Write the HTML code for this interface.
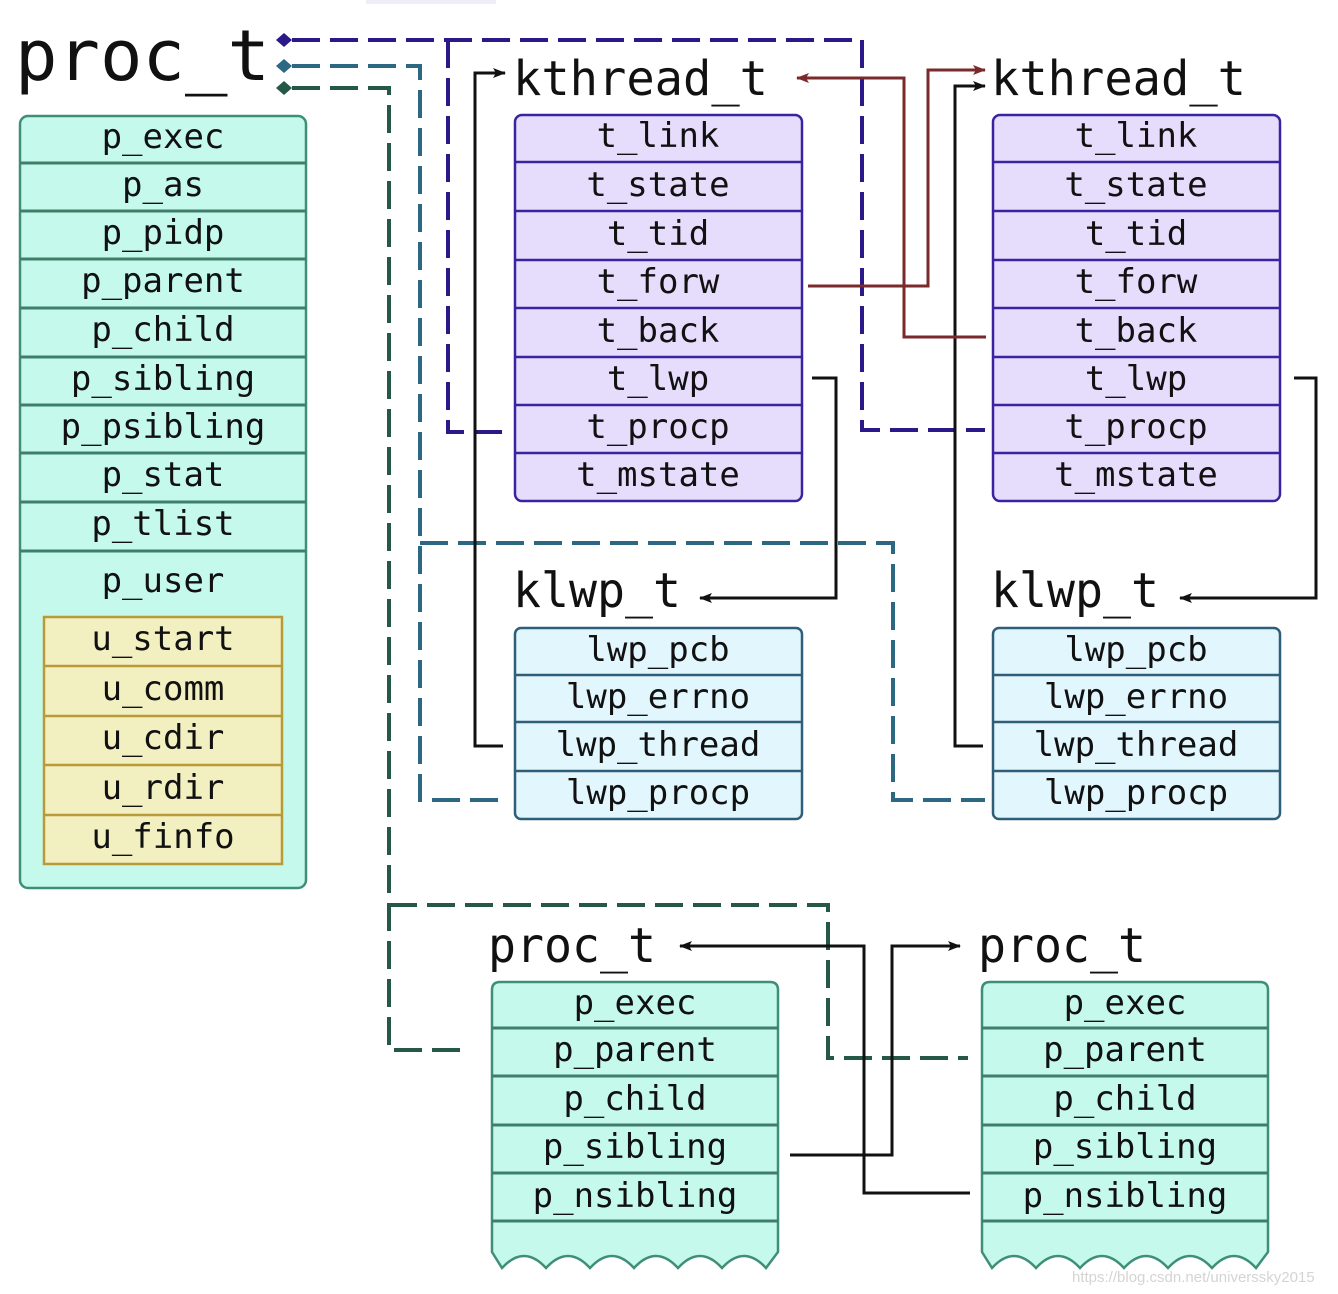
<!DOCTYPE html>
<html><head><meta charset="utf-8"><style>
html,body{margin:0;padding:0;background:#fff;}
svg{display:block;}
text{font-family:"DejaVu Sans Mono","Liberation Mono",monospace;fill:#111;}
.r{font-size:34px;text-anchor:middle;}
</style></head><body>
<svg width="1338" height="1294" viewBox="0 0 1338 1294" xmlns="http://www.w3.org/2000/svg">
<defs>
<marker id="ab" markerWidth="13" markerHeight="10" refX="12" refY="5" orient="auto" markerUnits="userSpaceOnUse"><path d="M0,0 L13,5 L0,10 L3,5 z" fill="#111"/></marker>
<marker id="ar" markerWidth="13" markerHeight="10" refX="12" refY="5" orient="auto" markerUnits="userSpaceOnUse"><path d="M0,0 L13,5 L0,10 L3,5 z" fill="#7a2a2a"/></marker>
</defs>
<rect x="366" y="0" width="130" height="4" fill="#eeeef8"/>

<!-- titles -->
<text x="15" y="80" font-size="70" textLength="255" lengthAdjust="spacingAndGlyphs">proc_t</text>
<text x="513" y="95" font-size="48" textLength="255" lengthAdjust="spacingAndGlyphs">kthread_t</text>
<text x="991" y="95" font-size="48" textLength="255" lengthAdjust="spacingAndGlyphs">kthread_t</text>
<text x="513" y="607" font-size="48" textLength="168" lengthAdjust="spacingAndGlyphs">klwp_t</text>
<text x="991" y="607" font-size="48" textLength="168" lengthAdjust="spacingAndGlyphs">klwp_t</text>
<text x="488" y="962" font-size="48" textLength="168" lengthAdjust="spacingAndGlyphs">proc_t</text>
<text x="978" y="962" font-size="48" textLength="168" lengthAdjust="spacingAndGlyphs">proc_t</text>

<!-- left proc_t -->
<rect x="20" y="116" width="286" height="772" rx="8" fill="#c5f9eb" stroke="#3f8f78" stroke-width="2.5"/>
<g stroke="#3f7f6a" stroke-width="3">
<line x1="20" x2="306" y1="163" y2="163"/><line x1="20" x2="306" y1="211" y2="211"/><line x1="20" x2="306" y1="259" y2="259"/><line x1="20" x2="306" y1="308" y2="308"/><line x1="20" x2="306" y1="357" y2="357"/><line x1="20" x2="306" y1="405" y2="405"/><line x1="20" x2="306" y1="453" y2="453"/><line x1="20" x2="306" y1="502" y2="502"/><line x1="20" x2="306" y1="551" y2="551"/>
</g>
<text class="r" x="163" y="148">p_exec</text><text class="r" x="163" y="196">p_as</text><text class="r" x="163" y="244">p_pidp</text><text class="r" x="163" y="292">p_parent</text><text class="r" x="163" y="341">p_child</text><text class="r" x="163" y="390">p_sibling</text><text class="r" x="163" y="438">p_psibling</text><text class="r" x="163" y="486">p_stat</text><text class="r" x="163" y="535">p_tlist</text><text class="r" x="163" y="592">p_user</text>
<rect x="44" y="617" width="238" height="247" fill="#f2efc0" stroke="#b89a38" stroke-width="2.5"/>
<g stroke="#b89a38" stroke-width="2.5">
<line x1="44" x2="282" y1="666" y2="666"/><line x1="44" x2="282" y1="716" y2="716"/><line x1="44" x2="282" y1="765" y2="765"/><line x1="44" x2="282" y1="815" y2="815"/>
</g>
<text class="r" x="163" y="650">u_start</text><text class="r" x="163" y="700">u_comm</text><text class="r" x="163" y="749">u_cdir</text><text class="r" x="163" y="799">u_rdir</text><text class="r" x="163" y="848">u_finfo</text>

<!-- kthread boxes -->
<g id="kt">
<rect x="515" y="115" width="287" height="386" rx="7" fill="#e6dcfc" stroke="#3a23a0" stroke-width="2.5"/>
<g stroke="#3a23a0" stroke-width="2.5">
<line x1="515" x2="802" y1="162" y2="162"/><line x1="515" x2="802" y1="211" y2="211"/><line x1="515" x2="802" y1="260" y2="260"/><line x1="515" x2="802" y1="308" y2="308"/><line x1="515" x2="802" y1="357" y2="357"/><line x1="515" x2="802" y1="405" y2="405"/><line x1="515" x2="802" y1="453" y2="453"/>
</g>
<text class="r" x="658" y="147">t_link</text><text class="r" x="658" y="196">t_state</text><text class="r" x="658" y="245">t_tid</text><text class="r" x="658" y="293">t_forw</text><text class="r" x="658" y="342">t_back</text><text class="r" x="658" y="390">t_lwp</text><text class="r" x="658" y="438">t_procp</text><text class="r" x="658" y="486">t_mstate</text>
</g>
<use href="#kt" x="478" y="0"/>

<!-- klwp boxes -->
<g id="kl">
<rect x="515" y="628" width="287" height="191" rx="6" fill="#e2f6fd" stroke="#2f5f78" stroke-width="2.5"/>
<g stroke="#2f5f78" stroke-width="2.5">
<line x1="515" x2="802" y1="675" y2="675"/><line x1="515" x2="802" y1="722" y2="722"/><line x1="515" x2="802" y1="771" y2="771"/>
</g>
<text class="r" x="658" y="661">lwp_pcb</text><text class="r" x="658" y="708">lwp_errno</text><text class="r" x="658" y="756">lwp_thread</text><text class="r" x="658" y="804">lwp_procp</text>
</g>
<use href="#kl" x="478" y="0"/>

<!-- bottom proc boxes -->
<g id="bp">
<path d="M492,990 Q492,982 500,982 H770 Q778,982 778,990 V1252 L766,1268 Q744,1244 722,1268 Q700,1244 678,1268 Q656,1244 634,1268 Q612,1244 590,1268 Q568,1244 546,1268 Q524,1244 502,1268 L492,1252 Z" fill="#c5f9eb" stroke="#3f8f78" stroke-width="2.5"/>
<g stroke="#3f7f6a" stroke-width="3">
<line x1="492" x2="778" y1="1028" y2="1028"/><line x1="492" x2="778" y1="1076" y2="1076"/><line x1="492" x2="778" y1="1125" y2="1125"/><line x1="492" x2="778" y1="1173" y2="1173"/><line x1="492" x2="778" y1="1221" y2="1221"/>
</g>
<text class="r" x="635" y="1014">p_exec</text><text class="r" x="635" y="1061">p_parent</text><text class="r" x="635" y="1110">p_child</text><text class="r" x="635" y="1158">p_sibling</text><text class="r" x="635" y="1207">p_nsibling</text>
</g>
<use href="#bp" x="490" y="0"/>

<!-- connectors -->
<g fill="none" stroke-width="4" stroke-dasharray="28,10">
<path d="M292,40 H862 V430 H985" stroke="#2c1888"/>
<path d="M448,40 V432 H505" stroke="#2c1888"/>
<path d="M292,66 H420 V800 H503" stroke="#2d6882"/>
<path d="M420,543 H893 V800 H985" stroke="#2d6882"/>
<path d="M292,88 H389 V1050 H470" stroke="#255848"/>
<path d="M389,905 H828 V1058 H968" stroke="#255848"/>
</g>
<path d="M276,40 l8,-7 l8,7 l-8,7z" fill="#2c1888"/>
<path d="M276,66 l8,-7 l8,7 l-8,7z" fill="#2d6882"/>
<path d="M276,88 l8,-7 l8,7 l-8,7z" fill="#255848"/>

<g fill="none" stroke="#111" stroke-width="3">
<path d="M503,746 H475 V73 H505" marker-end="url(#ab)"/>
<path d="M983,746 H955 V86 H985" marker-end="url(#ab)"/>
<path d="M812,378 H836 V598 H700" marker-end="url(#ab)"/>
<path d="M1294,378 H1316 V598 H1180" marker-end="url(#ab)"/>
<path d="M790,1155 H892 V946 H960" marker-end="url(#ab)"/>
<path d="M970,1193 H864 V946 H680" marker-end="url(#ab)"/>
</g>
<g fill="none" stroke="#7a2a2a" stroke-width="3">
<path d="M808,286 H928 V70 H985" marker-end="url(#ar)"/>
<path d="M986,337 H904 V78 H797" marker-end="url(#ar)"/>
</g>

<text x="1072" y="1282" font-size="15" style="fill:#d4d4d4;font-family:'Liberation Sans',sans-serif">https://blog.csdn.net/universsky2015</text>
</svg>
</body></html>
